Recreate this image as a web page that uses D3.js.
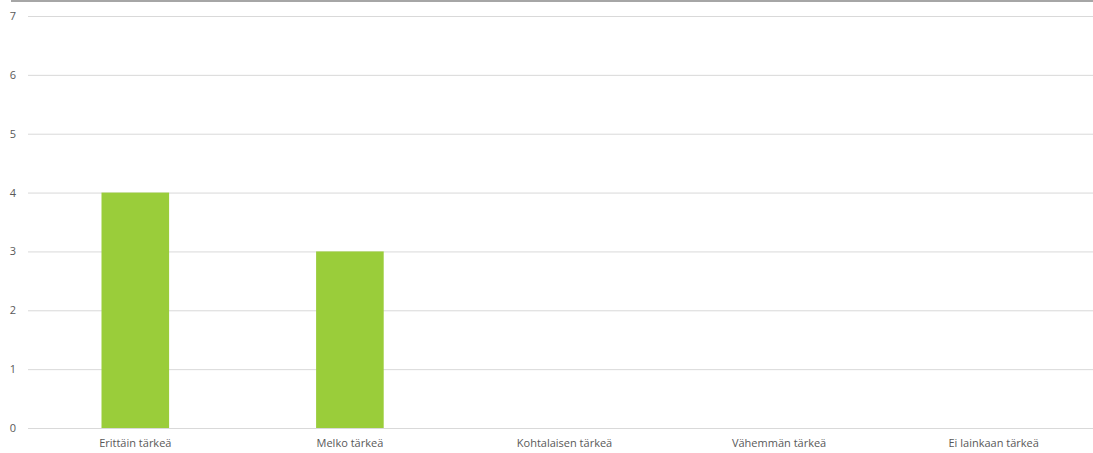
<!DOCTYPE html>
<html><head><meta charset="utf-8">
<script src="https://cdn.jsdelivr.net/npm/d3@7"></script>
<style>body{margin:0;background:#fff;}svg{display:block;}</style>
</head><body>
<svg id="c" width="1093" height="453"></svg>
<script>
const categories = ["Erittäin tärkeä","Melko tärkeä","Kohtalaisen tärkeä","Vähemmän tärkeä","Ei lainkaan tärkeä"];
const values = [4,3,0,0,0];
const yTicks = [0,1,2,3,4,5,6,7];

(function(){
const svg = d3.select("#c");
const mLeft = 28, mRight = 1101, mTop = 16, mBottom = 428;
const x = d3.scaleBand().domain(categories).range([mLeft,mRight]).paddingInner(0.685).paddingOuter(0.3425);
const xc = d3.scaleBand().domain(categories).range([mLeft,mRight]);
const y = d3.scaleLinear().domain([0,7]).range([mBottom,mTop]);

svg.append("line").attr("x1",11).attr("x2",1093).attr("y1",1).attr("y2",1)
  .attr("stroke","#a6a6a6").attr("stroke-width",2);

svg.append("g").selectAll("line").data(yTicks).join("line")
  .attr("x1",mLeft).attr("x2",1093).attr("y1",d=>y(d)+0.5).attr("y2",d=>y(d)+0.5)
  .attr("stroke","#d9d9d9").attr("stroke-width",1);

svg.append("g").selectAll("text").data(yTicks).join("text")
  .attr("x",13).attr("y",d=>y(d)+4).attr("text-anchor","middle")
  .attr("font-family","Open Sans, sans-serif").attr("font-size",11).attr("fill","#595959")
  .text(d=>d);

svg.append("g").selectAll("rect").data(values).join("rect")
  .attr("x",(d,i)=>x(categories[i])).attr("width",x.bandwidth())
  .attr("y",d=>y(d)).attr("height",d=>mBottom-y(d))
  .attr("fill","#9acd3a");

svg.append("g").selectAll("text").data(categories).join("text")
  .attr("x",d=>xc(d)+xc.bandwidth()/2).attr("y",447).attr("text-anchor","middle")
  .attr("font-family","Open Sans, sans-serif").attr("font-size",11).attr("fill","#595959")
  .text(d=>d);
})();
</script>
</body></html>
